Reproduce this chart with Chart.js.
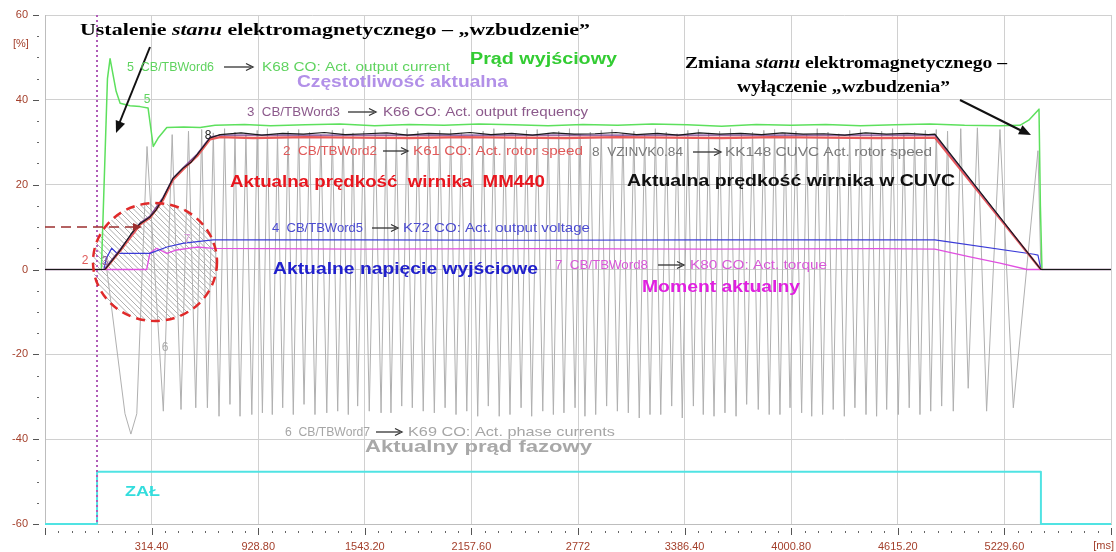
<!DOCTYPE html>
<html><head><meta charset="utf-8">
<script src="https://cdn.jsdelivr.net/npm/chart.js@4"></script>
<style>html,body{margin:0;padding:0;background:#fff;}canvas{display:block;}</style>
</head><body><canvas id="c" width="1116" height="552"></canvas>
<script>
// ---------- axis ticks ----------
const xTickValues = [-300, 314.4, 928.8, 1543.2, 2157.6, 2772, 3386.4, 4000.8, 4615.2, 5229.6, 5844];
const xTickLabels = ['', '314.40', '928.80', '1543.20', '2157.60', '2772', '3386.40', '4000.80', '4615.20', '5229.60', ''];
const yTickValues = [-60, -40, -20, 0, 20, 40, 60];
const yTickLabels = ['-60', '-40', '-20', '0', '20', '40', '60'];

// ---------- series (time in ms, value in %) ----------
// 8: KK148 CUVC Act. rotor speed
const cuvcT = [-300, 46, 133, 200, 248, 305, 340, 380, 438, 496, 540, 576, 651, 709, 830, 950, 1070, 1190, 1310, 1430, 1550, 1670, 1790, 1910, 2030, 2150, 2270, 2390, 2510, 2630, 2750, 2870, 2990, 3110, 3230, 3350, 3470, 3590, 3710, 3830, 3950, 4070, 4190, 4310, 4430, 4550, 4670, 4790, 4829, 5440, 5844];
const cuvcV = [0, 0, 4.5, 8.6, 10.8, 12.4, 14.0, 16.8, 21.5, 23.9, 25.2, 27.0, 31.0, 31.8, 32.2, 31.7, 32.1, 31.9, 32.3, 31.8, 32.0, 32.2, 31.7, 32.1, 31.9, 32.3, 31.8, 32.1, 31.7, 32.2, 31.9, 32.0, 32.3, 31.8, 32.1, 31.7, 32.2, 31.9, 32.1, 31.8, 32.2, 31.9, 32.0, 31.7, 32.2, 31.9, 32.1, 31.8, 31.9, 0, 0];
// 3: K66 output frequency
const freqT = [-300, 40, 133, 248, 305, 380, 438, 496, 576, 651, 709, 4829, 5440, 5844];
const freqV = [0, 0, 4.8, 11.0, 12.6, 17.0, 21.6, 24.0, 27.2, 31.2, 31.7, 31.7, 0, 0];
// 2: K61 rotor speed
const speedT = [46, 133, 248, 305, 380, 438, 496, 576, 651, 709, 900, 1200, 1500, 1800, 2100, 2400, 2700, 3000, 3300, 3600, 3900, 4200, 4500, 4829, 5440];
const speedV = [0, 4.4, 10.6, 12.2, 16.4, 21.2, 23.6, 26.7, 30.7, 31.2, 31.0, 31.2, 31.1, 31.0, 31.2, 31.1, 31.0, 31.2, 31.1, 31.0, 31.2, 31.1, 31.0, 31.1, 0];
// 4: K72 output voltage
const voltT = [-300, 40, 52, 84, 115, 305, 403, 500, 669, 1500, 2500, 3500, 4500, 4829, 5400, 5423, 5440, 5844];
const voltV = [0, 0, 2.5, 5.0, 3.8, 3.8, 5.3, 6.2, 7.0, 7.0, 6.9, 7.0, 7.0, 7.0, 3.6, 3.4, 0, 0];
// 7: K80 torque
const torqueT = [-300, 286, 305, 344, 402, 459, 575, 669, 1500, 2500, 3500, 4500, 4829, 5031, 5204, 5360, 5844];
const torqueV = [0, 0, 3.9, 5.0, 3.8, 4.6, 5.3, 5.0, 4.8, 4.9, 4.8, 4.9, 4.8, 3.0, 1.5, 0, 0];
// 5: K68 output current
const currentT = [-300, 25, 60, 75, 110, 133, 190, 248, 294, 324, 352, 402, 500, 594, 680, 850, 1000, 1200, 1400, 1600, 1800, 2000, 2200, 2400, 2600, 2800, 3000, 3200, 3400, 3600, 3800, 4000, 4200, 4400, 4600, 4800, 5000, 5200, 5319, 5370, 5429, 5437, 5440, 5446, 5844];
const currentV = [0, 0, 45, 49.7, 42, 39.2, 38.6, 38.4, 38.1, 29.0, 31.0, 33.5, 33.6, 33.5, 34.0, 34.2, 33.9, 34.1, 34.3, 33.9, 34.2, 34.0, 34.3, 34.1, 33.9, 34.2, 34.0, 34.3, 34.1, 33.8, 34.2, 34.0, 34.2, 33.9, 34.1, 34.3, 34.0, 33.9, 34.0, 35.2, 37.8, 15, 15, 0, 0];
// 6: K69 phase currents (troughs, peaks, start/end)
const phaseTroughT = [195, 382, 484, 569, 636, 703, 766, 824, 892, 953, 1010, 1070, 1131, 1193, 1256, 1324, 1387, 1448, 1502, 1569, 1637, 1694, 1756, 1817, 1880, 1944, 2006, 2069, 2131, 2194, 2255, 2318, 2380, 2444, 2505, 2569, 2630, 2691, 2755, 2812, 2874, 2937, 2999, 3062, 3125, 3187, 3249, 3312, 3373, 3437, 3494, 3556, 3619, 3683, 3744, 3811, 3874, 3936, 3994, 4061, 4119, 4182, 4243, 4307, 4368, 4432, 4493, 4551, 4618, 4681, 4743, 4805, 4868, 4935, 5021, 5127, 5281];
const phaseTroughV = [-38.8, -33.4, -33.0, -32.6, -32.6, -34.6, -31.8, -34.6, -34.2, -33.8, -34.2, -32.6, -34.2, -31.8, -34.2, -33.8, -33.4, -34.2, -32.2, -33.4, -33.8, -33.8, -32.2, -32.6, -33.4, -33.8, -32.6, -34.2, -33.4, -34.6, -32.2, -34.6, -34.2, -32.6, -34.6, -33.4, -34.2, -33.8, -32.6, -34.6, -34.2, -32.2, -33.4, -33.8, -35.0, -34.2, -34.2, -32.2, -35.0, -32.2, -34.2, -34.6, -33.8, -34.6, -31.8, -33.0, -34.2, -34.2, -32.6, -33.8, -34.6, -34.2, -33.0, -34.6, -32.6, -34.2, -34.6, -33.0, -34.2, -32.6, -34.2, -33.4, -32.2, -33.4, -28.0, -33.4, -32.6];
const phasePeakT = [288, 433, 527, 603, 670, 735, 795, 858, 923, 982, 1040, 1101, 1162, 1225, 1290, 1356, 1418, 1475, 1536, 1603, 1666, 1725, 1787, 1849, 1912, 1975, 2038, 2100, 2163, 2225, 2287, 2349, 2412, 2475, 2537, 2600, 2661, 2723, 2784, 2843, 2906, 2968, 3031, 3094, 3156, 3218, 3281, 3343, 3405, 3466, 3525, 3588, 3651, 3714, 3778, 3843, 3905, 3965, 4028, 4090, 4151, 4213, 4275, 4338, 4400, 4463, 4522, 4585, 4650, 4712, 4774, 4837, 4902, 4978, 5074, 5204, 5423];
const phasePeakV = [29.0, 31.8, 32.6, 33.0, 32.2, 33.2, 32.4, 31.8, 32.8, 33.2, 32.0, 32.6, 33.0, 32.4, 31.8, 32.8, 33.2, 32.2, 32.6, 33.0, 31.8, 32.4, 33.2, 32.6, 32.0, 32.8, 33.0, 32.2, 31.8, 32.6, 33.2, 32.4, 32.0, 32.8, 33.0, 32.2, 32.6, 33.2, 31.8, 32.4, 32.8, 33.0, 32.2, 32.6, 31.8, 33.2, 32.4, 32.0, 32.8, 33.0, 32.2, 32.6, 33.2, 31.8, 32.4, 32.8, 33.0, 32.2, 32.6, 31.8, 33.2, 32.4, 32.0, 32.8, 33.0, 32.2, 32.6, 33.2, 31.8, 32.4, 32.8, 33.0, 32.6, 33.2, 33.4, 33.0, 28.0];
const phaseExtraT = [-300, 56, 161, 229, 5440, 5844];
const phaseExtraV = [0, 0, -34, -34, 0, 0];
// ZAŁ (on) signal
const onT = [-300, 0, 0, 5440, 5440, 5844];
const onV = [-60, -60, -47.7, -47.7, -60, -60];

// ---------- helpers ----------
const SANS = "'Liberation Sans', Arial, sans-serif";
const SERIF = "'Liberation Serif', 'Times New Roman', serif";
function pts(T, V) { return T.map((t, i) => ({x: t, y: V[i]})); }
const phasePts = pts(phaseTroughT, phaseTroughV).concat(pts(phasePeakT, phasePeakV), pts(phaseExtraT, phaseExtraV)).sort((a, b) => a.x - b.x);

function ds(label, data, color, width) {
  return {label, data, borderColor: color, borderWidth: width, pointRadius: 0, tension: 0,
          fill: false, borderJoinStyle: 'round', clip: 4};
}

function fitRuns(ctx, runs, x1, x2, yc) {
  let w = 0;
  runs.forEach(r => { ctx.font = r[1]; w += ctx.measureText(r[0]).width; });
  const s = (x2 - x1) / w;
  ctx.save();
  ctx.translate(x1, yc);
  ctx.scale(s, 1);
  ctx.textBaseline = 'middle';
  ctx.textAlign = 'left';
  let x = 0;
  runs.forEach(r => { ctx.font = r[1]; ctx.fillStyle = r[2]; ctx.fillText(r[0], x, 0); x += ctx.measureText(r[0]).width; });
  ctx.restore();
}
function arrowHead(ctx, x1, y1, x2, y2, len, wid, color) {
  const a = Math.atan2(y2 - y1, x2 - x1);
  ctx.save();
  ctx.fillStyle = color;
  ctx.beginPath();
  ctx.moveTo(x2, y2);
  ctx.lineTo(x2 - len * Math.cos(a) + wid * Math.sin(a), y2 - len * Math.sin(a) - wid * Math.cos(a));
  ctx.lineTo(x2 - len * Math.cos(a) - wid * Math.sin(a), y2 - len * Math.sin(a) + wid * Math.cos(a));
  ctx.closePath();
  ctx.fill();
  ctx.restore();
}
function tagLabel(ctx, pre, post, color, p1, p2, a1, a2, s1, s2, y) {
  const f = `13px ${SANS}`;
  fitRuns(ctx, [[pre, f, color]], p1, p2, y);
  fitRuns(ctx, [[post, f, color]], s1, s2, y);
  ctx.save();
  ctx.strokeStyle = '#333';
  ctx.lineWidth = 1.3;
  ctx.beginPath(); ctx.moveTo(a1, y); ctx.lineTo(a2 - 2, y); ctx.stroke();
  ctx.beginPath(); ctx.moveTo(a2 - 7, y - 3.5); ctx.lineTo(a2, y); ctx.lineTo(a2 - 7, y + 3.5); ctx.stroke();
  ctx.restore();
}

const CX = 155, CY = 262, RX = 62, RY = 59;

const decor = {
  id: 'decor',
  beforeDraw(chart) {
    const ctx = chart.ctx;
    ctx.save(); ctx.fillStyle = '#fff'; ctx.fillRect(0, 0, chart.width, chart.height); ctx.restore();
  },
  beforeDatasetsDraw(chart) {
    const ctx = chart.ctx;
    // hatched circle interior
    ctx.save();
    ctx.beginPath();
    ctx.ellipse(CX, CY, RX, RY, 0, 0, Math.PI * 2);
    ctx.clip();
    ctx.strokeStyle = 'rgba(110,110,110,0.7)';
    ctx.lineWidth = 0.8;
    for (let k = -150; k < 150; k += 5.5) {
      ctx.beginPath();
      ctx.moveTo(CX + k - 75, CY - 75);
      ctx.lineTo(CX + k + 75, CY + 75);
      ctx.stroke();
    }
    ctx.restore();
  },
  afterDraw(chart) {
    const ctx = chart.ctx;
    const xs = chart.scales.x, ys = chart.scales.y;
    const ca = chart.chartArea;
    // y tick dashes and minor dots
    ctx.save();
    ctx.strokeStyle = '#555'; ctx.lineWidth = 1;
    yTickValues.forEach(v => {
      const py = Math.round(ys.getPixelForValue(v)) + 0.5;
      ctx.beginPath(); ctx.moveTo(33, py); ctx.lineTo(39, py); ctx.stroke();
    });
    ctx.fillStyle = '#666';
    for (let v = -55; v < 60; v += 5) {
      if (v % 20 === 0) continue;
      ctx.fillRect(37, Math.round(ys.getPixelForValue(v)), 2, 1);
    }
    // x minor dots and major ticks
    for (let i = 0; i < xTickValues.length - 1; i++) {
      const a = xTickValues[i], b = xTickValues[i + 1];
      for (let j = 1; j < 8; j++) {
        const px = Math.round(xs.getPixelForValue(a + (b - a) * j / 8));
        ctx.fillRect(px, 531, 1, 2);
      }
    }
    xTickValues.forEach(v => {
      const px = Math.round(xs.getPixelForValue(v)) + 0.5;
      ctx.beginPath(); ctx.moveTo(px, 528); ctx.lineTo(px, 535); ctx.stroke();
    });
    ctx.restore();
    // units
    ctx.save();
    ctx.fillStyle = '#a4402c';
    ctx.font = `11px ${SANS}`;
    ctx.textBaseline = 'middle';
    ctx.textAlign = 'left';
    ctx.fillText('[%]', 13, 44);
    ctx.textAlign = 'right';
    ctx.fillText('[ms]', 1114, 546);
    ctx.restore();

    // vertical dotted line at t = 0
    ctx.save();
    const x0 = Math.round(xs.getPixelForValue(0));
    ctx.strokeStyle = '#b05cb8';
    ctx.lineWidth = 2;
    ctx.setLineDash([2, 3]);
    ctx.beginPath(); ctx.moveTo(x0, ca.top); ctx.lineTo(x0, ca.bottom); ctx.stroke();
    ctx.restore();

    // dashed red circle
    ctx.save();
    ctx.strokeStyle = '#e02a2a';
    ctx.lineWidth = 2.5;
    ctx.setLineDash([9, 6]);
    ctx.beginPath(); ctx.ellipse(CX, CY, RX, RY, 0, 0, Math.PI * 2); ctx.stroke();
    ctx.restore();
    // dashed horizontal arrow
    ctx.save();
    ctx.strokeStyle = '#9c2f2f';
    ctx.lineWidth = 1.6;
    ctx.setLineDash([10, 6]);
    ctx.beginPath(); ctx.moveTo(45, 227); ctx.lineTo(134, 227); ctx.stroke();
    ctx.restore();
    arrowHead(ctx, 120, 227, 142, 227, 9, 4, '#9c2f2f');

    // black annotation arrows
    ctx.save();
    ctx.strokeStyle = '#111'; ctx.lineWidth = 2;
    ctx.beginPath(); ctx.moveTo(150, 47); ctx.lineTo(119, 124); ctx.stroke();
    ctx.beginPath(); ctx.moveTo(960, 100); ctx.lineTo(1022, 131); ctx.stroke();
    ctx.restore();
    arrowHead(ctx, 150, 47, 116, 133, 12, 5, '#111');
    arrowHead(ctx, 960, 100, 1031, 135, 12, 5, '#111');

    // serif annotations
    const sb = `bold 17px ${SERIF}`, si = `italic bold 17px ${SERIF}`;
    fitRuns(ctx, [['Ustalenie ', sb, '#000'], ['stanu', si, '#000'], [' elektromagnetycznego – „wzbudzenie”', sb, '#000']], 80, 590, 31);
    fitRuns(ctx, [['Zmiana ', sb, '#000'], ['stanu', si, '#000'], [' elektromagnetycznego –', sb, '#000']], 685, 1007, 64);
    fitRuns(ctx, [['wyłączenie „wzbudzenia”', sb, '#000']], 737, 950, 88);

    // bold series names
    const bf = `bold 16px ${SANS}`;
    fitRuns(ctx, [['Prąd wyjściowy', bf, '#33cc33']], 470, 617, 60);
    fitRuns(ctx, [['Częstotliwość aktualna', bf, '#b290e8']], 297, 508, 83);
    fitRuns(ctx, [['Aktualna prędkość  wirnika  MM440', bf, '#e8161e']], 230, 545, 183);
    fitRuns(ctx, [['Aktualna prędkość wirnika w CUVC', bf, '#111']], 627, 955, 182);
    fitRuns(ctx, [['Aktualne napięcie wyjściowe', bf, '#2020cc']], 273, 538, 270);
    fitRuns(ctx, [['Moment aktualny', bf, '#e020e0']], 642, 800, 288);
    fitRuns(ctx, [['Aktualny prąd fazowy', bf, '#a8a8a8']], 365, 592, 448);
    fitRuns(ctx, [['ZAŁ', `bold 15px ${SANS}`, '#33dddd']], 125, 160, 492);

    // small tag labels
    tagLabel(ctx, '5  CB/TBWord6', 'K68 CO: Act. output current', '#5fd35f', 127, 214, 224, 253, 262, 450, 67);
    tagLabel(ctx, '3  CB/TBWord3', 'K66 CO: Act. output frequency', '#8c5a8c', 247, 340, 348, 376, 383, 588, 112);
    tagLabel(ctx, '2  CB/TBWord2', 'K61 CO: Act. rotor speed', '#e05a5a', 283, 377, 383, 408, 413, 583, 151);
    tagLabel(ctx, '8  VZINVK0.84', 'KK148 CUVC Act. rotor speed', '#7a7a7a', 592, 683, 693, 721, 725, 932, 152);
    tagLabel(ctx, '4  CB/TBWord5', 'K72 CO: Act. output voltage', '#4a4ad0', 272, 363, 372, 398, 403, 590, 228);
    tagLabel(ctx, '7  CB/TBWord8', 'K80 CO: Act. torque', '#d858d8', 555, 648, 658, 684, 690, 827, 265);
    tagLabel(ctx, '6  CB/TBWord7', 'K69 CO: Act. phase currents', '#a6a6a6', 285, 370, 376, 402, 408, 615, 432);

    // small series numbers
    const nf = `12px ${SANS}`;
    ctx.save();
    ctx.font = nf; ctx.textAlign = 'center'; ctx.textBaseline = 'middle';
    [['5', 147, 100, '#5fd35f'], ['2', 85, 261, '#e05a5a'], ['3', 105, 262, '#8c5a8c'],
     ['8', 208, 136, '#222'], ['7', 187, 240, '#d79ad7'], ['6', 165, 348, '#aaa']].forEach(n => {
      ctx.fillStyle = n[3]; ctx.fillText(n[0], n[1], n[2]);
    });
    ctx.restore();
  }
};

new Chart(document.getElementById('c'), {
  type: 'line',
  data: {
    datasets: [
      ds('8 CUVC rotor speed', pts(cuvcT, cuvcV), '#1a1a1a', 1.2),
      ds('3 output frequency', pts(freqT, freqV), '#7a3f8f', 1.2),
      ds('2 rotor speed', pts(speedT, speedV), '#e85a5a', 2.4),
      ds('4 output voltage', pts(voltT, voltV), '#3a3ad8', 1.2),
      ds('7 torque', pts(torqueT, torqueV), '#e050e0', 1.3),
      ds('5 output current', pts(currentT, currentV), '#5de05d', 1.5),
      ds('6 phase currents', phasePts, '#b0b0b0', 1),
      ds('ZAŁ', pts(onT, onV), '#50e3e3', 2)
    ]
  },
  options: {
    responsive: false,
    animation: false,
    devicePixelRatio: 1,
    layout: {padding: {top: 15, right: 5, left: 0, bottom: 0}},
    plugins: {legend: {display: false}, tooltip: {enabled: false}},
    scales: {
      x: {
        type: 'linear', min: -300, max: 5844,
        afterBuildTicks: s => { s.ticks = xTickValues.map(v => ({value: v})); },
        afterFit: s => { s.height = 28; s.paddingLeft = 0; s.paddingRight = 0; },
        grid: {color: '#d0d0d0', drawTicks: false, lineWidth: 1},
        border: {color: '#bdbdbd'},
        ticks: {autoSkip: false, maxRotation: 0, padding: 16, color: '#a4402c',
                font: {size: 11, family: SANS}, callback: (v, i) => xTickLabels[i]}
      },
      y: {
        type: 'linear', min: -60, max: 60,
        afterBuildTicks: s => { s.ticks = yTickValues.map(v => ({value: v})); },
        afterFit: s => { s.width = 45; s.paddingTop = 0; s.paddingBottom = 0; },
        grid: {color: '#d0d0d0', drawTicks: false, lineWidth: 1},
        border: {color: '#bdbdbd'},
        ticks: {padding: 17, color: '#a4402c', font: {size: 11, family: SANS},
                callback: (v, i) => yTickLabels[i]}
      }
    }
  },
  plugins: [decor]
});
</script></body></html>
